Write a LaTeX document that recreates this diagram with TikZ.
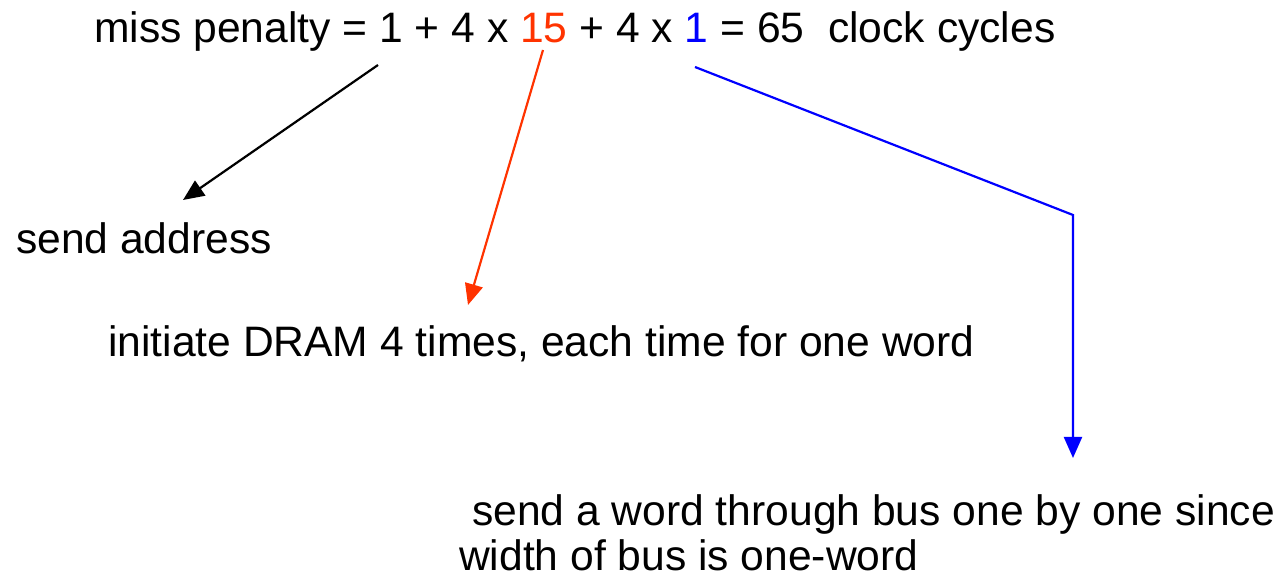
\documentclass[tikz,border=0pt]{standalone}
\usepackage{fontspec}
\setmainfont{Liberation Sans}
\usetikzlibrary{arrows.meta}
\definecolor{penred}{RGB}{255,51,0}
\definecolor{penblue}{RGB}{0,0,255}
\begin{document}
\begin{tikzpicture}[x=.5pt,y=-.5pt,line width=1.1pt,
  txt/.style={anchor=base west,inner sep=0pt,font=\fontsize{21.3}{22.5}\selectfont},
  arr/.style={-{Triangle[length=10.5pt,width=9pt]}}]
\useasboundingbox (0,0) rectangle (1282,581);
\node[txt] (pen) at (93,43) {miss penalty = 1 + 4 x \textcolor{penred}{15} + 4 x \textcolor{penblue}{1} = 65\ \ clock cycles};
\node[txt] (addr) at (15,254) {send address};
\node[txt] (dram) at (107,357) {initiate DRAM 4 times, each time for one word};
\node[txt] (bus1) at (471,526) {send a word through bus one by one since};
\node[txt] (bus2) at (458,571) {width of bus is one-word};
\coordinate (s1) at (378,65);\coordinate (e1) at (183,200);
\coordinate (s2) at (543,50);\coordinate (e2) at (468,305);
\coordinate (s3) at (695,67);\coordinate (k3) at (1073,215);\coordinate (e3) at (1073,458);
\draw[arr] (s1)--(e1);
\draw[arr,penred] (s2)--(e2);
\draw[arr,penblue] (s3)--(k3)--(e3);
\end{tikzpicture}
\end{document}
